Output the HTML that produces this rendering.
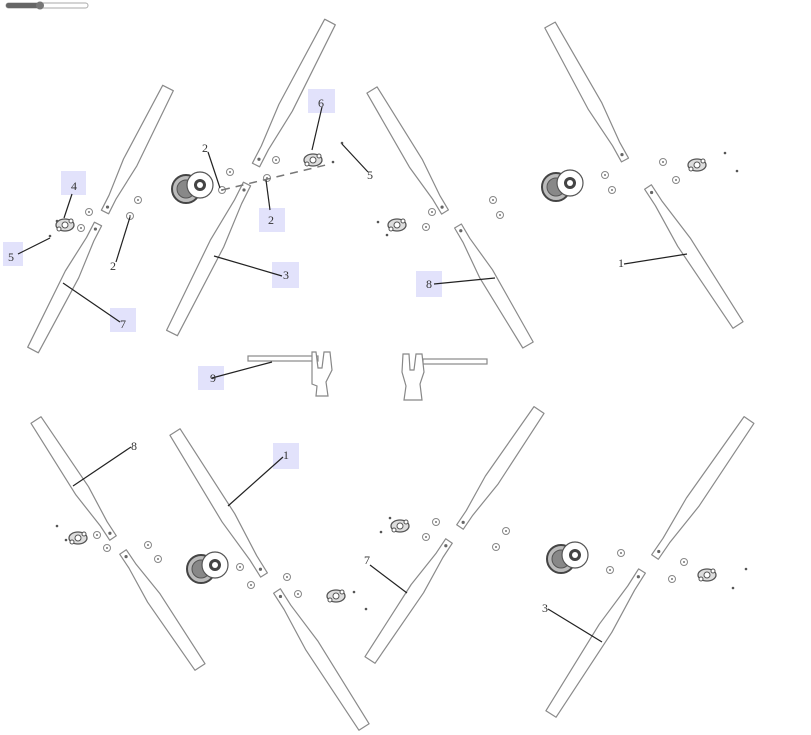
<!DOCTYPE html>
<html><head><meta charset="utf-8"><style>
html,body{margin:0;padding:0;background:#fff;width:811px;height:735px;overflow:hidden}
text{font-family:"Liberation Serif",serif;font-size:12px;fill:#333}
</style></head><body>
<svg id="s" width="811" height="735" viewBox="0 0 811 735" xmlns="http://www.w3.org/2000/svg">
<defs>
<g id="washer"><circle r="3.5" fill="#fff" stroke="#888" stroke-width="1"/><circle r="1" fill="#777"/></g>
<g id="hub"><circle cx="-14" cy="4" r="14" fill="#bbb" stroke="#444" stroke-width="2"/><circle cx="-14" cy="4" r="9" fill="#888" stroke="#555"/><circle r="13" fill="#fff" stroke="#555" stroke-width="1.2"/><circle r="6" fill="#444"/><circle r="3" fill="#fff"/></g>
<g id="flange"><ellipse rx="9" ry="6" fill="#ddd" stroke="#555" stroke-width="1.3"/><circle r="3" fill="#fff" stroke="#555"/><circle cx="-6" cy="4" r="2" fill="#fff" stroke="#555"/><circle cx="6" cy="-4" r="2" fill="#fff" stroke="#555"/></g>
</defs>
<rect x="6" y="3" width="82" height="5" rx="2.5" fill="#fff" stroke="#aaa"/>
<rect x="6" y="3" width="35" height="5" rx="2.5" fill="#666"/>
<circle cx="40" cy="5.5" r="4" fill="#777"/>
<g id="blades" fill="#fff" stroke="#8a8a8a" stroke-width="1.2" stroke-linejoin="round"></g>
<use href="#hub" x="200" y="185"/><use href="#hub" x="570" y="183"/>
<use href="#hub" x="215" y="565"/><use href="#hub" x="575" y="555"/>
<use href="#flange" x="65" y="225"/><use href="#flange" x="313" y="160"/>
<use href="#flange" x="397" y="225"/><use href="#flange" x="697" y="165"/>
<use href="#flange" x="78" y="538"/><use href="#flange" x="336" y="596"/>
<use href="#flange" x="400" y="526"/><use href="#flange" x="707" y="575"/>
<g>
<use href="#washer" x="89" y="212"/><use href="#washer" x="81" y="228"/><use href="#washer" x="138" y="200"/><use href="#washer" x="130" y="216"/>
<use href="#washer" x="230" y="172"/><use href="#washer" x="222" y="190"/><use href="#washer" x="276" y="160"/><use href="#washer" x="267" y="178"/>
<use href="#washer" x="432" y="212"/><use href="#washer" x="426" y="227"/><use href="#washer" x="493" y="200"/><use href="#washer" x="500" y="215"/>
<use href="#washer" x="605" y="175"/><use href="#washer" x="612" y="190"/><use href="#washer" x="663" y="162"/><use href="#washer" x="676" y="180"/>
<use href="#washer" x="97" y="535"/><use href="#washer" x="107" y="548"/><use href="#washer" x="148" y="545"/><use href="#washer" x="158" y="559"/>
<use href="#washer" x="240" y="567"/><use href="#washer" x="251" y="585"/><use href="#washer" x="287" y="577"/><use href="#washer" x="298" y="594"/>
<use href="#washer" x="436" y="522"/><use href="#washer" x="426" y="537"/><use href="#washer" x="506" y="531"/><use href="#washer" x="496" y="547"/>
<use href="#washer" x="621" y="553"/><use href="#washer" x="610" y="570"/><use href="#washer" x="684" y="562"/><use href="#washer" x="672" y="579"/>
</g>
<g fill="#555">
<circle cx="57" cy="221" r="1.3"/><circle cx="50" cy="236" r="1.3"/><circle cx="342" cy="143" r="1.3"/><circle cx="333" cy="162" r="1.3"/>
<circle cx="378" cy="222" r="1.3"/><circle cx="387" cy="235" r="1.3"/><circle cx="725" cy="153" r="1.3"/><circle cx="737" cy="171" r="1.3"/>
<circle cx="57" cy="526" r="1.3"/><circle cx="66" cy="540" r="1.3"/><circle cx="354" cy="592" r="1.3"/><circle cx="366" cy="609" r="1.3"/>
<circle cx="390" cy="518" r="1.3"/><circle cx="381" cy="532" r="1.3"/><circle cx="746" cy="569" r="1.3"/><circle cx="733" cy="588" r="1.3"/>
</g>
<line x1="222" y1="190" x2="330" y2="164" stroke="#777" stroke-width="1.5" stroke-dasharray="8,6"/>
<g fill="#fff" stroke="#888" stroke-width="1.2">
<rect x="248" y="356" width="70" height="5"/>
<path d="M312 352 L316 352 L318 368 L322 368 L324 352 L330 352 L332 370 L326 382 L328 396 L316 396 L317 386 L312 384 Z"/>
<rect x="423" y="359" width="64" height="5"/>
<path d="M403 354 L409 354 L410 370 L414 370 L416 354 L422 354 L424 372 L420 384 L422 400 L404 400 L406 386 L402 372 Z"/>
</g>
<g fill="#e2e2fb">
<rect x="61" y="171" width="25" height="24"/><rect x="3" y="242" width="20" height="24"/>
<rect x="110" y="308" width="26" height="24"/><rect x="308" y="89" width="27" height="24"/>
<rect x="259" y="208" width="26" height="24"/><rect x="272" y="262" width="27" height="26"/>
<rect x="416" y="271" width="26" height="26"/><rect x="198" y="366" width="26" height="24"/>
<rect x="273" y="443" width="26" height="26"/>
</g>
<g stroke="#222" stroke-width="1.2">
<line x1="72" y1="194" x2="64" y2="218"/><line x1="18" y1="254" x2="50" y2="238"/>
<line x1="120" y1="322" x2="63" y2="283"/><line x1="322" y1="107" x2="312" y2="150"/>
<line x1="208" y1="152" x2="220" y2="188"/><line x1="270" y1="210" x2="266" y2="180"/>
<line x1="368" y1="172" x2="342" y2="144"/><line x1="116" y1="262" x2="130" y2="217"/>
<line x1="282" y1="276" x2="214" y2="256"/><line x1="624" y1="264" x2="687" y2="254"/>
<line x1="434" y1="284" x2="495" y2="278"/><line x1="212" y1="378" x2="272" y2="362"/>
<line x1="131" y1="447" x2="73" y2="486"/><line x1="283" y1="457" x2="228" y2="506"/>
<line x1="370" y1="565" x2="407" y2="593"/><line x1="548" y1="609" x2="602" y2="642"/>
</g>
<g text-anchor="middle">
<text x="74" y="190">4</text><text x="11" y="261">5</text><text x="123" y="328">7</text>
<text x="321" y="107">6</text><text x="205" y="152">2</text><text x="271" y="224">2</text>
<text x="370" y="179">5</text><text x="113" y="270">2</text><text x="286" y="279">3</text>
<text x="621" y="267">1</text><text x="429" y="288">8</text><text x="213" y="382">9</text>
<text x="134" y="450">8</text><text x="286" y="459">1</text><text x="367" y="564">7</text>
<text x="545" y="612">3</text>
</g>
</svg>
<script>
(function(){
var B=[[105,212,168,88],[98,224,33,350],[256,165,330,22],[247,184,172,333],[445,212,372,90],[458,226,528,345],[625,160,550,25],[648,187,738,325],
[113,538,36,420],[123,552,200,667],[264,575,175,432],[277,591,364,727],[460,527,539,410],[449,541,370,660],[655,557,749,420],[642,571,551,714]];
var W=[[0,4],[0.12,4],[0.4,7.5],[1,6]];
var g=document.getElementById('blades'),ns='http://www.w3.org/2000/svg';
B.forEach(function(b){
 var dx=b[2]-b[0],dy=b[3]-b[1],L=Math.hypot(dx,dy),nx=-dy/L,ny=dx/L,a=[],c=[];
 W.forEach(function(p){var x=b[0]+dx*p[0],y=b[1]+dy*p[0];a.push((x+nx*p[1]).toFixed(1)+','+(y+ny*p[1]).toFixed(1));c.unshift((x-nx*p[1]).toFixed(1)+','+(y-ny*p[1]).toFixed(1));});
 var e=document.createElementNS(ns,'polygon');e.setAttribute('points',a.concat(c).join(' '));g.appendChild(e);
 var h=document.createElementNS(ns,'circle');h.setAttribute('cx',b[0]+dx*0.04);h.setAttribute('cy',b[1]+dy*0.04);h.setAttribute('r',1.6);h.setAttribute('fill','#666');h.setAttribute('stroke','none');g.appendChild(h);
});
})();
</script>
</body></html>
